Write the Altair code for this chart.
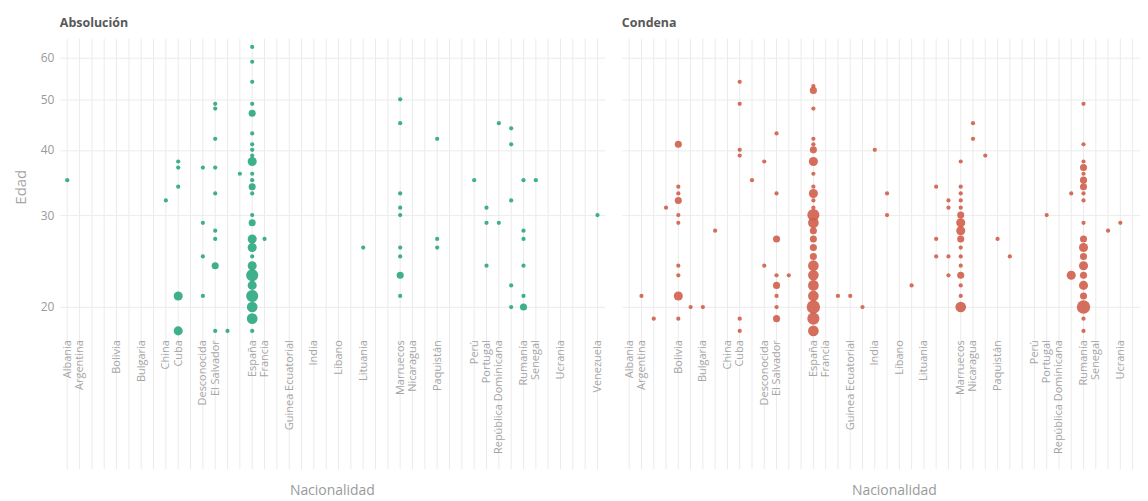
import altair as alt
import pandas as pd

# x slots (44 columns in the original; unlabeled columns are hidden "otra_" slots)
slots = [
    "Albania", "Argentina", "otra_02", "otra_03", "Bolivia", "otra_05", "Bulgaria",
    "otra_07", "China", "Cuba", "otra_10", "Desconocida", "El Salvador", "otra_13",
    "otra_14", "España", "Francia", "otra_17", "Guinea Ecuatorial", "otra_19", "India",
    "otra_21", "Líbano", "otra_23", "Lituania", "otra_25", "otra_26", "Marruecos",
    "Nicaragua", "otra_29", "Paquistán", "otra_31", "otra_32", "Perú", "Portugal",
    "República Dominicana", "otra_36", "Rumanía", "Senegal", "otra_39", "Ucrania",
    "otra_41", "otra_42", "Venezuela",
]
slots_condena = slots[:42]  # the right panel is cut at the picture's edge

y_ticks = [20, 30, 40, 50, 60]
y_domain = [17.7, 65.3]

# Absolución
abs_nac = (["Albania"] + ["China"] + ["Cuba"] * 5 + ["Desconocida"] * 4 + ["El Salvador"] * 9
           + ["otra_13"] + ["otra_14"] + ["España"] * 26 + ["Francia"] + ["Lituania"]
           + ["Marruecos"] * 9 + ["Paquistán"] * 3 + ["Perú"] + ["Portugal"] * 3
           + ["República Dominicana"] * 2 + ["otra_36"] * 5 + ["Rumanía"] * 6
           + ["Senegal"] + ["Venezuela"])
abs_edad = ([35] + [32] + [38, 37, 34, 21, 18] + [37, 29, 25, 21]
            + [49, 48, 42, 37, 33, 28, 27, 24, 18] + [18] + [36]
            + [63, 59, 54, 49, 47, 43, 40, 39, 38, 36, 35, 34, 33, 30, 29, 27, 26, 25, 24, 23, 22, 21, 20, 19, 18, 41]
            + [27] + [26] + [50, 45, 33, 31, 30, 26, 25, 23, 21] + [42, 27, 26] + [35]
            + [31, 29, 24] + [45, 29] + [44, 41, 32, 22, 20] + [35, 28, 27, 24, 21, 20]
            + [35] + [30])
abs_n = ([1] + [1] + [1, 1, 1, 3, 3] + [1, 1, 1, 1]
         + [1, 1, 1, 1, 1, 1, 1, 2, 1] + [1] + [1]
         + [1, 1, 1, 1, 2, 1, 1, 1, 3, 1, 1, 2, 1, 1, 2, 3, 3, 1, 3, 5, 3, 5, 4, 4, 1, 1]
         + [1] + [1] + [1, 1, 1, 1, 1, 1, 1, 2, 1] + [1, 1, 1] + [1]
         + [1, 1, 1] + [1, 1] + [1, 1, 1, 1, 1] + [1, 1, 1, 1, 1, 2]
         + [1] + [1])

# Condena
con_nac = (["Argentina"] + ["otra_02"] + ["otra_03"] + ["Bolivia"] * 10 + ["otra_05"]
           + ["Bulgaria"] + ["otra_07"] + ["Cuba"] * 6 + ["otra_10"] + ["Desconocida"] * 2
           + ["El Salvador"] * 8 + ["otra_13"] + ["España"] * 25 + ["otra_17"]
           + ["Guinea Ecuatorial"] + ["otra_19"] + ["India"] + ["otra_21"] * 2 + ["otra_23"]
           + ["otra_25"] * 3 + ["otra_26"] * 4 + ["Marruecos"] * 16 + ["Nicaragua"] * 2
           + ["otra_29"] + ["Paquistán"] + ["otra_31"] + ["Portugal"] + ["otra_36"] * 2
           + ["Rumanía"] * 20 + ["otra_39"] + ["Ucrania"])
con_edad = ([21] + [19] + [31] + [41, 34, 33, 32, 30, 29, 24, 23, 21, 19] + [20]
            + [20] + [28] + [54, 49, 40, 39, 19, 18] + [35] + [38, 24]
            + [43, 33, 27, 23, 22, 21, 20, 19] + [23]
            + [53, 52, 48, 42, 41, 40, 38, 36, 34, 33, 32, 31, 30, 29, 28, 27, 26, 25, 24, 23, 22, 21, 20, 19, 18]
            + [21] + [21] + [20] + [40] + [33, 30] + [22] + [34, 27, 25] + [32, 31, 25, 23]
            + [38, 34, 33, 32, 31, 30, 29, 28, 27, 26, 25, 24, 23, 22, 21, 20]
            + [45, 42] + [39] + [27] + [25] + [30] + [33, 23]
            + [49, 41, 38, 37, 36, 35, 34, 33, 32, 29, 27, 26, 25, 24, 23, 22, 21, 20, 19, 18]
            + [28] + [29])
con_n = ([1] + [1] + [1] + [2, 1, 1, 2, 1, 1, 1, 1, 3, 1] + [1]
         + [1] + [1] + [1, 1, 1, 1, 1, 1] + [1] + [1, 1]
         + [1, 1, 2, 1, 2, 1, 1, 2] + [1]
         + [1, 2, 1, 1, 1, 2, 3, 1, 1, 3, 1, 1, 5, 4, 2, 2, 2, 2, 4, 4, 4, 4, 6, 5, 4]
         + [1] + [1] + [1] + [1] + [1, 1] + [1] + [1, 1, 1] + [1, 1, 1, 1]
         + [1, 1, 1, 1, 1, 2, 3, 3, 2, 1, 1, 1, 2, 1, 1, 4]
         + [1, 1] + [1] + [1] + [1] + [1] + [1, 3]
         + [1, 1, 1, 2, 1, 2, 2, 1, 1, 1, 2, 3, 2, 3, 2, 3, 2, 6, 1, 1]
         + [1] + [1])

GREEN = "#2ba67e"
RED = "#d05e4a"
FONT = "Open Sans"
GRID = "#ebebeb"
H = 297
LABEL_EXPR = "indexof(datum.label, 'otra_') == 0 ? '' : datum.label"


def panel(nac, edad, n, domain, color, width, title, show_y):
    pts = pd.DataFrame({"Nacionalidad": nac, "Edad": edad, "n": n})
    grid = pd.DataFrame({"Nacionalidad": domain})
    xscale = alt.Scale(type="point", domain=domain, padding=0.6)
    xaxis = alt.Axis(
        title="Nacionalidad", labelExpr=LABEL_EXPR, labelAngle=270, labelFontSize=11,
        labelColor="#a6a6a6", labelPadding=5, ticks=False, domain=False, grid=False,
        titleColor="#9a9a9a", titleFontSize=14, titleFontWeight="normal",
        titleX=273, titleY=156, titleBaseline="middle", zindex=1,
        labelFont=FONT, titleFont=FONT,
    )
    if show_y:
        yaxis = alt.Axis(
            values=y_ticks, title="Edad", titleColor="#a6a6a6", titleFontSize=15,
            titleFontWeight="normal", titlePadding=12, labelColor="#9a9a9a",
            labelFontSize=12, labelPadding=6, ticks=False, domain=False,
            gridColor=GRID, labelFont=FONT, titleFont=FONT,
        )
    else:
        yaxis = alt.Axis(values=y_ticks, title=None, labels=False, ticks=False,
                         domain=False, gridColor=GRID)
    rules = alt.Chart(grid).mark_rule(color=GRID, strokeWidth=1).encode(
        x=alt.X("Nacionalidad:N", scale=xscale, axis=xaxis),
        y=alt.value(0),
        y2=alt.value(H + 135),
    )
    points = alt.Chart(pts).mark_circle(color=color, opacity=0.9).encode(
        x=alt.X("Nacionalidad:N", scale=xscale, axis=xaxis),
        y=alt.Y("Edad:Q", scale=alt.Scale(type="log", domain=y_domain, nice=False, zero=False),
                axis=yaxis),
        size=alt.Size("n:Q", scale=alt.Scale(domain=[1, 6], range=[18, 180]), legend=None),
    )
    return alt.layer(rules, points).properties(
        width=width, height=H,
        view=alt.ViewBackground(strokeWidth=0, stroke="transparent"),
        title=alt.TitleParams(text=title, anchor="start", frame="group", font=FONT,
                              fontSize=12.5, fontWeight="bold", color="#585858", offset=9),
    )


left = panel(abs_nac, abs_edad, abs_n, slots, GREEN, 547, "Absolución", True)
right = panel(con_nac, con_edad, con_n, slots_condena, RED, 520, "Condena", False)

chart = (
    alt.hconcat(left, right, spacing=17)
    .resolve_scale(x="independent", y="independent")
    .properties(padding={"left": 5, "top": 8, "right": 0, "bottom": 0})
    .configure_view(strokeWidth=0, stroke="transparent")
    .configure(font=FONT, background="white")
)

chart.save("out.html", embed_options={"renderer": "svg", "actions": False})
